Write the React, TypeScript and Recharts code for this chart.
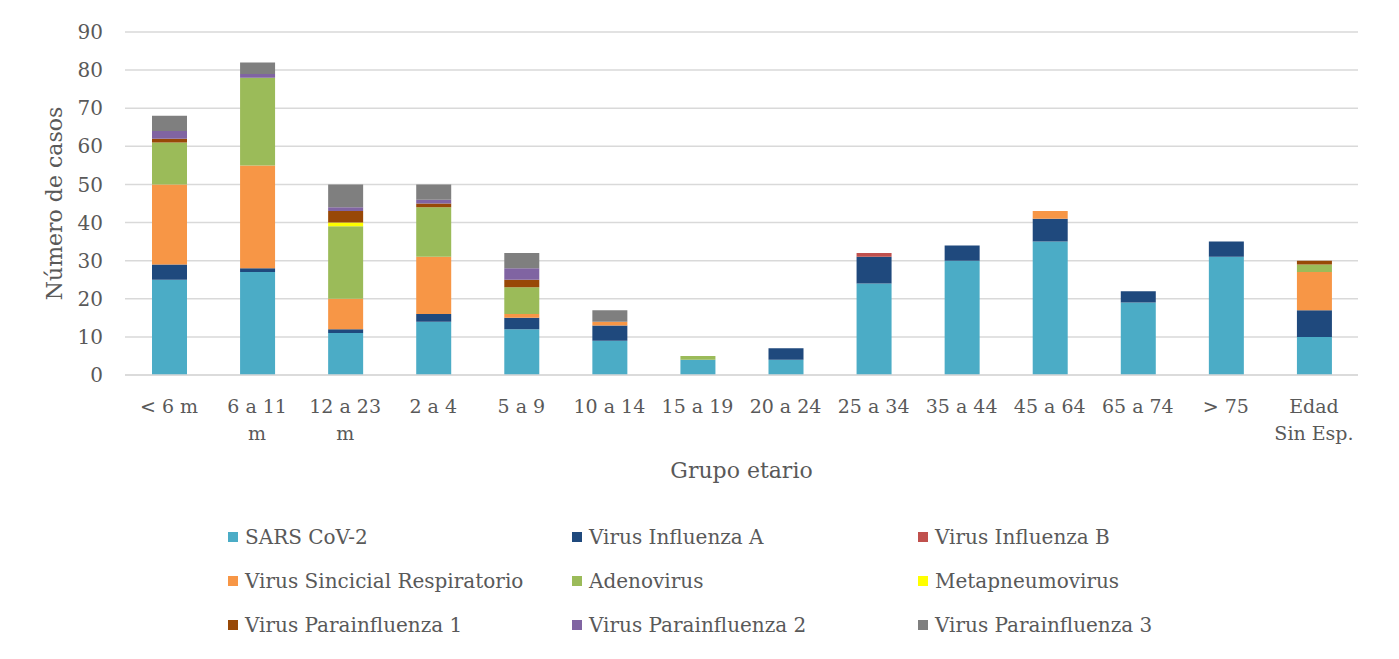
import { BarChart, Bar, XAxis, YAxis, CartesianGrid, Label } from "recharts";

// grupos etarios
const categories = [
  "< 6 m",
  "6 a 11 m",
  "12 a 23 m",
  "2 a 4",
  "5 a 9",
  "10 a 14",
  "15 a 19",
  "20 a 24",
  "25 a 34",
  "35 a 44",
  "45 a 64",
  "65 a 74",
  "> 75",
  "Edad Sin Esp.",
];

// cortes de línea de las etiquetas (como en el original)
const tickLines: Record<string, string[]> = {
  "6 a 11 m": ["6 a 11", "m"],
  "12 a 23 m": ["12 a 23", "m"],
  "Edad Sin Esp.": ["Edad", "Sin Esp."],
};

const yTicks = [0, 10, 20, 30, 40, 50, 60, 70, 80, 90];

const sarsCov2 = [25, 27, 11, 14, 12, 9, 4, 4, 24, 30, 35, 19, 31, 10];
const influenzaA = [4, 1, 1, 2, 3, 4, 0, 3, 7, 4, 6, 3, 4, 7];
const influenzaB = [0, 0, 0, 0, 0, 0, 0, 0, 1, 0, 0, 0, 0, 0];
const sincicial = [21, 27, 8, 15, 1, 1, 0, 0, 0, 0, 2, 0, 0, 10];
const adenovirus = [11, 23, 19, 13, 7, 0, 1, 0, 0, 0, 0, 0, 0, 2];
const metapneumo = [0, 0, 1, 0, 0, 0, 0, 0, 0, 0, 0, 0, 0, 0];
const parainf1 = [1, 0, 3, 1, 2, 0, 0, 0, 0, 0, 0, 0, 0, 1];
const parainf2 = [2, 1, 1, 1, 3, 0, 0, 0, 0, 0, 0, 0, 0, 0];
const parainf3 = [4, 3, 6, 4, 4, 3, 0, 0, 0, 0, 0, 0, 0, 0];

const SERIES = [
  { key: "sars", label: "SARS CoV-2", values: sarsCov2, color: "#4bacc6" },
  { key: "infA", label: "Virus Influenza A", values: influenzaA, color: "#1f497d" },
  { key: "infB", label: "Virus Influenza B", values: influenzaB, color: "#c0504d" },
  { key: "vsr", label: "Virus Sincicial Respiratorio", values: sincicial, color: "#f79646" },
  { key: "adeno", label: "Adenovirus", values: adenovirus, color: "#9bbb59" },
  { key: "metap", label: "Metapneumovirus", values: metapneumo, color: "#ffff00" },
  { key: "para1", label: "Virus Parainfluenza 1", values: parainf1, color: "#984807" },
  { key: "para2", label: "Virus Parainfluenza 2", values: parainf2, color: "#8064a2" },
  { key: "para3", label: "Virus Parainfluenza 3", values: parainf3, color: "#7f7f7f" },
];

const chartData = categories.map((name, i) => {
  const row: Record<string, string | number> = { name };
  SERIES.forEach((s) => {
    row[s.key] = s.values[i];
  });
  return row;
});

const TEXT = "#595959";
const GRID = "#d9d9d9";
const FONT = "'DejaVu Serif', serif";

function XTick(props: any) {
  const { x, y, payload } = props;
  const lines = tickLines[payload.value] ?? [payload.value];
  return (
    <text x={x} y={y} textAnchor="middle" fill={TEXT} fontSize={19} fontFamily={FONT}>
      {lines.map((l, i) => (
        <tspan key={i} x={x} dy={i === 0 ? 38 : 27}>
          {l}
        </tspan>
      ))}
    </text>
  );
}

function ChartLegend() {
  return (
    <div
      style={{
        position: "absolute",
        left: 228,
        top: 515,
        display: "grid",
        gridTemplateColumns: "344px 346px 346px",
        gridAutoRows: "44px",
        fontFamily: FONT,
        fontSize: 20,
        color: TEXT,
      }}
    >
      {SERIES.map((s) => (
        <div key={s.key} style={{ display: "flex", alignItems: "center" }}>
          <span style={{ width: 10, height: 10, background: s.color, marginRight: 7 }} />
          <span style={{ whiteSpace: "nowrap" }}>{s.label}</span>
        </div>
      ))}
    </div>
  );
}

export default function App() {
  return (
    <div
      style={{
        position: "relative",
        width: 1399,
        height: 659,
        margin: -8,
        boxSizing: "border-box",
        borderTop: "2px solid #d9d9d9",
        borderLeft: "2px solid #d9d9d9",
        borderRight: "2px solid #d9d9d9",
        outline: "0",
        background: "#fff",
      }}
    >
      <div style={{ position: "absolute", left: -2, top: -2 }}>
        <BarChart
          width={1399}
          height={659}
          data={chartData}
          margin={{ top: 32, right: 41, left: 0, bottom: 174 }}
          barSize={35}
        >
          <CartesianGrid horizontal vertical={false} stroke={GRID} strokeWidth={1.5} />
          <XAxis
            dataKey="name"
            height={110}
            interval={0}
            tickSize={0}
            tickMargin={0}
            tick={<XTick />}
            axisLine={{ stroke: GRID, strokeWidth: 1.5 }}
          >
            <Label
              value="Grupo etario"
              position="insideBottom"
              offset={7}
              fill={TEXT}
              fontSize={22}
              fontFamily={FONT}
            />
          </XAxis>
          <YAxis
            width={125}
            domain={[0, 90]}
            ticks={yTicks}
            tickSize={0}
            tickMargin={22}
            axisLine={false}
            tick={{ fill: TEXT, fontSize: 20, fontFamily: FONT }}
          >
            <Label
              content={(p: any) => {
                const vb = p.viewBox;
                const cx = vb.x + 54;
                const cy = vb.y + vb.height / 2;
                return (
                  <text
                    transform={`translate(${cx},${cy}) rotate(-90)`}
                    textAnchor="middle"
                    dominantBaseline="central"
                    fill={TEXT}
                    fontSize={22}
                    fontFamily={FONT}
                  >
                    Número de casos
                  </text>
                );
              }}
            />
          </YAxis>
          {SERIES.map((s) => (
            <Bar key={s.key} dataKey={s.key} stackId="a" fill={s.color} isAnimationActive={false} />
          ))}
        </BarChart>
        <ChartLegend />
      </div>
    </div>
  );
}
